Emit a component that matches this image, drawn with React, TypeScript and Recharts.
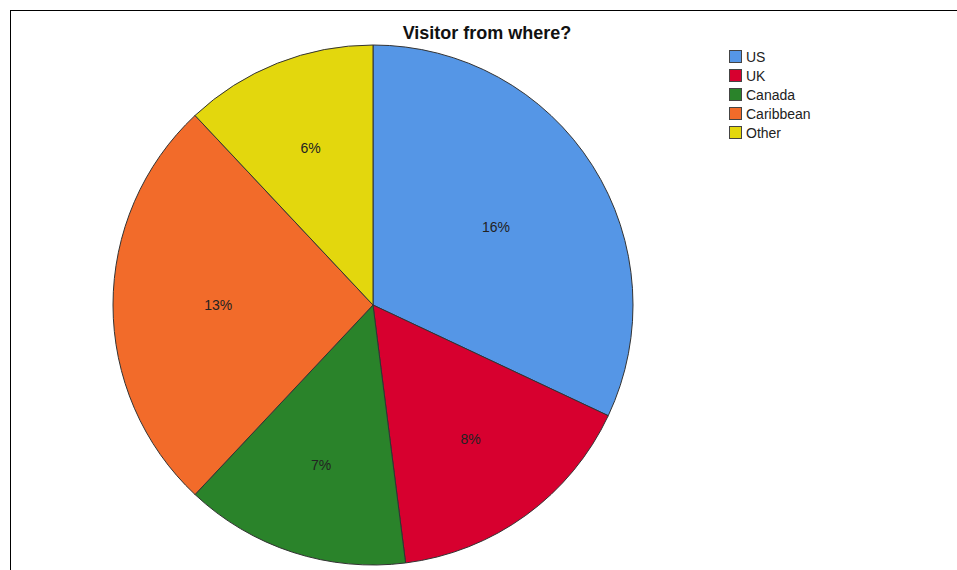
import React from 'react';
import { PieChart, Pie, Cell } from 'recharts';

const categories = ['US', 'UK', 'Canada', 'Caribbean', 'Other'];
const values = [16, 8, 7, 13, 6];
const colors = ['#5596E6', '#D7002F', '#2A832A', '#F26B2A', '#E3D70D'];

const data = categories.map((name, i) => ({ name, value: values[i] }));

const RAD = Math.PI / 180;
const FONT = "Arial, 'Liberation Sans', sans-serif";

const renderLabel = (props: any) => {
  const { cx, cy, midAngle, outerRadius, percent, value } = props;
  const theta = percent * 2 * Math.PI;
  const dist = (4 * outerRadius * Math.sin(theta / 2)) / (3 * theta);
  const x = cx + dist * Math.cos(-midAngle * RAD);
  const y = cy + dist * Math.sin(-midAngle * RAD);
  return (
    <text
      x={x}
      y={y}
      textAnchor="middle"
      dominantBaseline="central"
      fontFamily={FONT}
      fontSize={14}
      fill="#222"
    >
      {`${value}%`}
    </text>
  );
};

export default function App() {
  return (
    <div style={{ position: 'absolute', left: 0, top: 0, width: 957, height: 570, background: '#fff', overflow: 'hidden' }}>
      <div
        style={{
          position: 'absolute',
          left: 10,
          top: 10,
          width: 1000,
          height: 600,
          borderTop: '1px solid #000',
          borderLeft: '1px solid #000',
        }}
      />
      <div
        style={{
          position: 'absolute',
          left: 0,
          top: 23,
          width: 974,
          textAlign: 'center',
          fontFamily: FONT,
          fontWeight: 'bold',
          fontSize: 18,
          color: '#111',
        }}
      >
        Visitor from where?
      </div>
      <PieChart
        width={957}
        height={570}
        margin={{ top: 0, right: 0, bottom: 0, left: 0 }}
        style={{ position: 'absolute', left: 0, top: 0 }}
      >
        <Pie
          data={data}
          dataKey="value"
          nameKey="name"
          cx={373}
          cy={305}
          outerRadius={260}
          startAngle={90}
          endAngle={-270}
          stroke="#333"
          strokeWidth={1}
          label={renderLabel}
          labelLine={false}
          isAnimationActive={false}
        >
          {data.map((d, i) => (
            <Cell key={d.name} fill={colors[i]} />
          ))}
        </Pie>
      </PieChart>
      <div
        style={{
          position: 'absolute',
          left: 729,
          top: 47,
          fontFamily: FONT,
          fontSize: 14,
          color: '#222',
        }}
      >
        {categories.map((c, i) => (
          <div key={c} style={{ display: 'flex', alignItems: 'center', height: 19 }}>
            <span
              style={{
                display: 'inline-block',
                width: 11,
                height: 11,
                background: colors[i],
                border: '1px solid #444',
                marginRight: 4,
              }}
            />
            <span>{c}</span>
          </div>
        ))}
      </div>
    </div>
  );
}
